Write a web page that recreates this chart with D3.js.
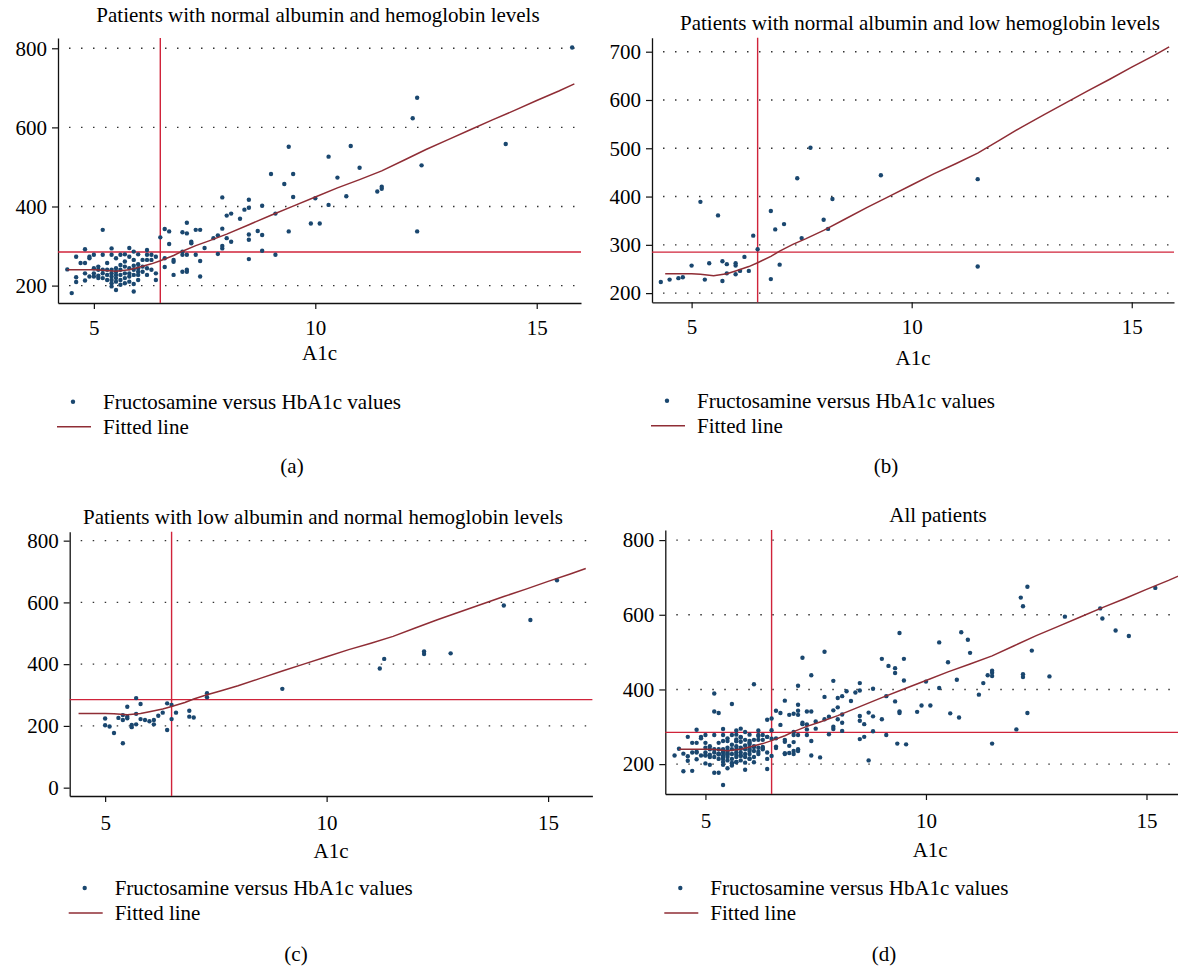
<!DOCTYPE html>
<html>
<head>
<meta charset="utf-8">
<script src="https://cdn.jsdelivr.net/npm/d3@7"></script>
<style>
    body { margin: 0; background: #fff; }
    text { font-family: "Liberation Serif", "Times New Roman", serif; fill: #000; }
</style>
</head>
<body>
<script>
// A1c vs fructosamine
const normalAlbNormalHb = [
    [4.4,241],[4.5,181],[4.6,273],[4.6,221],[4.6,209],[4.7,257],[4.8,292],[4.8,257],[4.8,231],[4.8,213],
    [4.9,273],[4.9,269],[4.9,223],[5.0,278],[5.0,244],[5.0,231],[5.0,223],[5.1,248],[5.1,240],[5.1,225],
    [5.1,219],[5.2,341],[5.2,278],[5.2,240],[5.2,231],[5.2,219],[5.3,257],[5.3,240],[5.3,227],[5.3,214],
    [5.4,294],[5.4,278],[5.4,240],[5.4,231],[5.4,223],[5.4,214],[5.4,206],[5.4,198],[5.5,269],[5.5,244],
    [5.5,235],[5.5,227],[5.5,219],[5.5,210],[5.5,189],[5.6,278],[5.6,252],[5.6,240],[5.6,227],[5.6,214],
    [5.6,202],[5.7,279],[5.7,261],[5.7,248],[5.7,231],[5.7,219],[5.7,206],[5.8,295],[5.8,273],[5.8,244],
    [5.8,231],[5.8,223],[5.8,210],[5.9,286],[5.9,265],[5.9,250],[5.9,240],[5.9,227],[5.9,204],[5.9,185],
    [6.0,279],[6.0,254],[6.0,244],[6.0,235],[6.0,227],[6.0,214],[6.1,265],[6.1,248],[6.1,235],[6.2,290],
    [6.2,278],[6.2,265],[6.2,244],[6.2,227],[6.3,278],[6.3,265],[6.3,240],[6.4,273],[6.4,231],[6.4,214],
    [6.5,322],[6.6,343],[6.6,269],[6.6,247],[6.7,337],[6.7,305],[6.8,265],[6.8,260],[6.8,227],[7.0,335],
    [7.0,286],[7.0,278],[7.0,235],[7.1,359],[7.1,332],[7.1,278],[7.1,240],[7.1,235],[7.2,311],[7.2,307],
    [7.3,341],[7.3,278],[7.4,341],[7.4,262],[7.4,223],[7.5,295],[7.7,320],[7.8,327],[7.8,280],[7.9,423],
    [7.9,344],[7.9,300],[7.9,294],[8.0,377],[8.0,320],[8.1,382],[8.1,311],[8.3,369],[8.4,392],[8.5,417],
    [8.5,397],[8.5,329],[8.5,316],[8.5,267],[8.7,338],[8.8,402],[8.8,328],[8.8,288],[9.0,482],[9.1,382],
    [9.1,278],[9.3,457],[9.4,551],[9.4,337],[9.5,482],[9.5,424],[9.9,357],[10.0,421],[10.1,357],[10.3,526],
    [10.3,404],[10.5,473],[10.7,426],[10.8,553],[11.0,498],[11.4,438],[11.5,450],[11.5,445],[12.2,623],
    [12.3,675],[12.3,337],[12.4,504],[14.3,558],[15.8,802]
];

const normalAlbLowHb = [
    [4.3,223],[4.5,228],[4.7,231],[4.8,233],[5.0,257],[5.2,389],[5.3,228],[5.4,262],[5.6,361],[5.7,266],
    [5.7,225],[5.8,260],[5.8,241],[6.0,262],[6.0,257],[6.0,239],[6.1,246],[6.2,275],[6.3,246],[6.4,319],
    [6.5,291],[6.8,370],[6.8,229],[6.9,332],[7.0,259],[7.1,343],[7.4,438],[7.5,314],[7.7,501],[8.0,352],
    [8.1,333],[8.2,395],[9.3,444],[11.5,436],[11.5,255]
];

const lowAlbNormalHb = [
    [5.0,224],[5.0,202],[5.1,198],[5.2,177],[5.3,226],[5.4,144],[5.4,219],[5.4,235],[5.5,262],[5.5,230],
    [5.5,225],[5.6,203],[5.6,196],[5.7,290],[5.7,239],[5.7,205],[5.8,271],[5.8,222],[5.9,219],[6.0,215],
    [6.1,219],[6.1,205],[6.2,233],[6.3,243],[6.4,273],[6.4,187],[6.5,268],[6.5,222],[6.6,243],[6.9,249],
    [6.9,230],[7.0,227],[7.3,306],[7.3,293],[9.0,320],[11.2,386],[11.3,417],[12.2,441],[12.2,433],
    [12.8,435],[14.0,590],[14.6,543],[15.2,672]
];

// patients that only show up in the "all patients" panel
const otherPatients = [
    [4.7,182],[5.3,337],[5.3,177],[6.1,414],[7.2,485],[7.1,410],[7.6,218],[7.7,380],[8.1,289],[8.6,307],
    [8.6,273],[8.7,210],[9.15,463],[9.3,368],[9.4,341],[9.35,255],[9.55,253],[9.8,340],[10.55,336],
    [10.75,325],[10.95,533],[12.05,293],[12.15,646],[13.15,595],[13.95,617]
];

const fittedLine = [
    [4.4,240],[4.8,240],[5.0,240],[5.2,239],[5.5,236],[5.8,240],[6.0,246],[6.3,255],[6.5,263],[6.8,276],
    [7.0,287],[7.3,301],[7.6,313],[8.0,330],[8.5,354],[9.0,378],[9.5,401],[10.0,424],[10.5,447],[11.0,468],
    [11.5,490],[12.0,517],[12.5,544],[13.0,569],[13.5,594],[14.0,619],[14.5,643],[15.0,668],[15.5,692],
    [15.85,710]
];

const refA1c = 6.5;
const refFructosamine = 285;

const xTicks = [5, 10, 15];
const yTicksWide = [200, 400, 600, 800];
const yTicksB = [200, 300, 400, 500, 600, 700];
const yTicksC = [0, 200, 400, 600, 800];

const titles = [
    "Patients with normal albumin and hemoglobin levels",
    "Patients with normal albumin and low hemoglobin levels",
    "Patients with low albumin and normal hemoglobin levels",
    "All patients"
];
const captions = ["(a)", "(b)", "(c)", "(d)"];
const xLabel = "A1c";
const legendLabels = ["Fructosamine versus HbA1c values", "Fitted line"];

const DOT = "#1a476f";
const FIT = "#8f2d35";
const REF = "#d0233a";

const svg = d3.select("body").append("svg")
    .attr("width", 1178)
    .attr("height", 972);

const panels = [
    {
        points: normalAlbNormalHb, title: titles[0], caption: captions[0],
        left: 58, right: 581, top: 38, bottom: 303,
        xDomain: [4.19, 16.0], yDomain: [156, 826], yTicks: yTicksWide, grid: yTicksWide,
        titleX: 318, titleY: 22, tickPad: 11, labelY: 360, legendY: 401.7, captionX: 292, captionY: 473
    },
    {
        points: normalAlbLowHb, title: titles[1], caption: captions[1],
        left: 652, right: 1174, top: 37.7, bottom: 302.3,
        xDomain: [4.1, 15.96], yDomain: [181, 729], yTicks: yTicksB, grid: yTicksB,
        titleX: 920, titleY: 30, tickPad: 11, labelY: 365, legendY: 400.7, captionX: 886, captionY: 473
    },
    {
        points: lowAlbNormalHb, title: titles[2], caption: captions[2],
        left: 69.7, right: 592.4, top: 531.7, bottom: 796,
        xDomain: [4.2, 16.0], yDomain: [-27, 829], yTicks: yTicksC, grid: yTicksWide,
        titleX: 323, titleY: 524.3, tickPad: 13, labelY: 858, legendY: 888, captionX: 296, captionY: 961
    },
    {
        points: normalAlbNormalHb.concat(normalAlbLowHb, lowAlbNormalHb, otherPatients),
        title: titles[3], caption: captions[3],
        left: 665.3, right: 1195, top: 530, bottom: 794,
        xDomain: [4.09, 16.1], yDomain: [120, 827], yTicks: yTicksWide, grid: yTicksWide,
        titleX: 938, titleY: 521.7, tickPad: 13, labelY: 857, legendY: 888, captionX: 884, captionY: 961
    }
];

function drawPanel(p) {
    const x = d3.scaleLinear().domain(p.xDomain).range([p.left, p.right]);
    const y = d3.scaleLinear().domain(p.yDomain).range([p.bottom, p.top]);
    const g = svg.append("g");

    // dotted grid
    g.selectAll("line.grid")
        .data(p.grid)
        .join("line")
        .attr("class", "grid")
        .attr("x1", p.left + 11).attr("x2", p.right - 4)
        .attr("y1", d => y(d)).attr("y2", d => y(d))
        .attr("stroke", "#333")
        .attr("stroke-width", 1.4)
        .attr("stroke-dasharray", "1.5,10.5");

    const yAxis = g.append("g")
        .attr("transform", `translate(${p.left},0)`)
        .call(d3.axisLeft(y).tickValues(p.yTicks).tickSize(6).tickSizeOuter(0).tickPadding(5));
    const xAxis = g.append("g")
        .attr("transform", `translate(0,${p.bottom})`)
        .call(d3.axisBottom(x).tickValues(xTicks).tickSize(6).tickSizeOuter(0).tickPadding(p.tickPad));

    [yAxis, xAxis].forEach(a => {
        a.select(".domain").attr("stroke", "#111").attr("stroke-width", 1.3);
        a.selectAll(".tick line").attr("stroke", "#111").attr("stroke-width", 1.2);
        a.selectAll(".tick text")
            .style("font-family", '"Liberation Serif", serif')
            .style("font-size", "21px")
            .attr("fill", "#000");
    });

    // reference lines
    g.append("line")
        .attr("x1", x(refA1c)).attr("x2", x(refA1c))
        .attr("y1", p.top).attr("y2", p.bottom)
        .attr("stroke", REF).attr("stroke-width", 1.4);
    g.append("line")
        .attr("x1", p.left).attr("x2", p.right)
        .attr("y1", y(refFructosamine)).attr("y2", y(refFructosamine))
        .attr("stroke", REF).attr("stroke-width", 1.4);

    g.selectAll("circle")
        .data(p.points)
        .join("circle")
        .attr("cx", d => x(d[0]))
        .attr("cy", d => y(d[1]))
        .attr("r", 2.2)
        .attr("fill", DOT);

    g.append("path")
        .datum(fittedLine)
        .attr("d", d3.line().x(d => x(d[0])).y(d => y(d[1])))
        .attr("fill", "none")
        .attr("stroke", FIT)
        .attr("stroke-width", 1.5);

    g.append("text")
        .attr("x", p.titleX).attr("y", p.titleY)
        .attr("text-anchor", "middle")
        .style("font-size", "21px")
        .text(p.title);

    g.append("text")
        .attr("x", (p.left + p.right) / 2).attr("y", p.labelY)
        .attr("text-anchor", "middle")
        .style("font-size", "21px")
        .text(xLabel);

    // legend
    const lx = p.left + 15;
    g.append("circle")
        .attr("cx", lx).attr("cy", p.legendY)
        .attr("r", 2.2).attr("fill", DOT);
    g.append("text")
        .attr("x", lx + 30).attr("y", p.legendY + 7)
        .style("font-size", "21px")
        .text(legendLabels[0]);
    g.append("line")
        .attr("x1", p.left - 1).attr("x2", p.left + 33)
        .attr("y1", p.legendY + 25).attr("y2", p.legendY + 25)
        .attr("stroke", FIT).attr("stroke-width", 1.5);
    g.append("text")
        .attr("x", lx + 30).attr("y", p.legendY + 32)
        .style("font-size", "21px")
        .text(legendLabels[1]);

    g.append("text")
        .attr("x", p.captionX).attr("y", p.captionY)
        .attr("text-anchor", "middle")
        .style("font-size", "21px")
        .text(p.caption);
}

panels.forEach(drawPanel);
</script>
</body>
</html>
